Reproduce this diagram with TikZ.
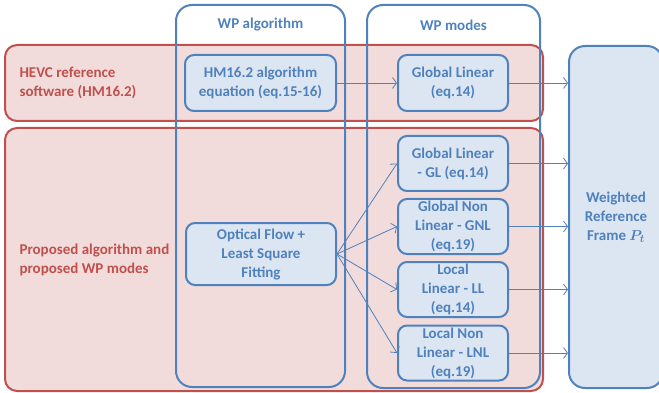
\documentclass[tikz,border=0pt]{standalone}
\usepackage{fontspec}
\setmainfont{Carlito}
\usepackage{bm}
\usetikzlibrary{positioning}
\usetikzlibrary{arrows.meta}

\definecolor{wpblue}{RGB}{79,129,189}
\definecolor{wpfill}{RGB}{220,230,242}
\definecolor{hmred}{RGB}{192,80,77}
\definecolor{hmfill}{RGB}{242,220,219}

\begin{document}
\begin{tikzpicture}[x=1pt,y=-1pt,
  txt/.style={font=\fontsize{15}{19}\selectfont\bfseries},
  band/.style={draw=hmred,fill=hmfill,line width=2pt,rounded corners=12pt},
  column/.style={draw=wpblue,line width=2pt,rounded corners=16pt},
  block/.style={draw=wpblue,fill=wpfill,line width=2pt,rounded corners=9pt,
    txt,text=wpblue,align=center,inner sep=0pt},
  link/.style={wpblue,line width=0.8pt,-{Straight Barb[length=4pt,width=11pt]}}]
 \useasboundingbox (0,0) rectangle (659,393);
 \clip (0,0) rectangle (659,393);
 % red bands
 \draw[band] (5,45) rectangle (543,121);
 \draw[band] (5,128) rectangle (543,391);
 \node[txt,text=hmred,align=left,anchor=west] (hevc) at (16,83) {HEVC reference\\software (HM16.2)};
 \node[txt,text=hmred,align=left,anchor=west] (prop) at (16,260) {Proposed algorithm and\\proposed WP modes};
 % columns
 \draw[column] (176,5) rectangle (345,387);
 \draw[column] (367,5) rectangle (540,388);
 \node[txt,text=wpblue] (algo) at (260.5,25) {WP algorithm};
 \node[txt,text=wpblue] (modes) at (453.5,25) {WP modes};
 % blocks
 \node[block,minimum width=151,minimum height=56] (hm) at (260.5,83) {HM16.2 algorithm\\equation (eq.15-16)};
 \node[block,minimum width=150,minimum height=62] (of) at (261,254) {Optical Flow +\\Least Square\\Fitting};
 \node[block,minimum width=110,minimum height=56] (gl0) at (453,83) {Global Linear\\(eq.14)};
 \node[block,minimum width=110,minimum height=55] (gl) at (453,163.5) {Global Linear\\- GL (eq.14)};
 \node[block,minimum width=110,minimum height=55] (gnl) at (453,226.5) {Global Non\\Linear - GNL\\(eq.19)};
 \node[block,minimum width=110,minimum height=55] (ll) at (453,289.5) {Local\\Linear - LL\\(eq.14)};
 \node[block,minimum width=110,minimum height=55] (lnl) at (453,353) {Local Non\\Linear - LNL\\(eq.19)};
 \node[block,minimum width=94,minimum height=342,rounded corners=16pt] (ref) at (616,217) {Weighted\\Reference\\Frame $\bm{P_t}$};
 % arrows
 \draw[link] (hm) -- (gl0);
 \foreach \m in {gl0,gl,gnl,ll,lnl}
  \draw[link] (\m.east) -- (\m.east -| ref.west);
 \foreach \m in {gl,gnl,ll,lnl}
  \draw[link] (of.east) -- (\m.west);
\end{tikzpicture}
\end{document}
